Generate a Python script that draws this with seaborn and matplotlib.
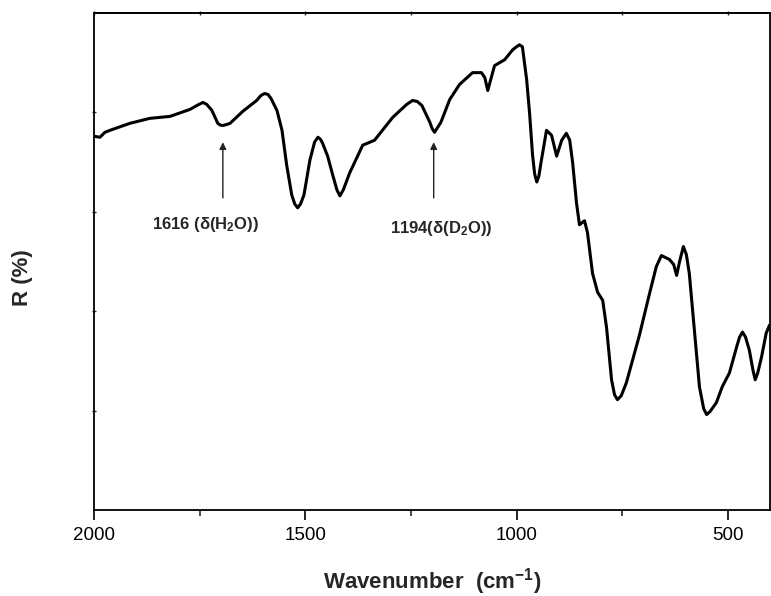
import matplotlib
matplotlib.use("Agg")
import matplotlib.pyplot as plt
import seaborn as sns
import pandas as pd

# ---- data ----
wavenumber = [2000, 1986, 1974, 1962, 1915, 1868, 1820, 1773, 1752, 1742, 1733, 1721, 1707,
              1700, 1693, 1685, 1678, 1648, 1615, 1605, 1596, 1588, 1581, 1567, 1555, 1544,
              1532, 1525, 1518, 1511, 1503, 1489, 1478, 1470, 1464, 1459, 1447, 1435, 1425,
              1418, 1410, 1395, 1364, 1336, 1293, 1260, 1246, 1235, 1224, 1205, 1200, 1194,
              1188, 1179, 1158, 1135, 1104, 1083, 1075, 1068, 1061, 1052, 1028, 1009, 1000,
              993, 986, 976, 969, 962, 957, 952, 947, 943, 929, 917, 905, 893, 882, 874, 867,
              858, 851, 839, 832, 820, 808, 796, 787, 775, 768, 761, 752, 740, 709, 685, 669,
              657, 638, 628, 621, 614, 605, 598, 591, 579, 567, 557, 550, 542, 527, 513, 496,
              479, 472, 465, 458, 449, 440, 435, 429, 420, 409, 401]
reflectance = [3.76, 3.75, 3.80, 3.82, 3.89, 3.94, 3.96, 4.03, 4.08, 4.10, 4.08, 4.02, 3.89,
               3.87, 3.87, 3.88, 3.89, 4.01, 4.12, 4.17, 4.19, 4.18, 4.14, 4.02, 3.82, 3.47,
               3.17, 3.08, 3.04, 3.08, 3.17, 3.52, 3.70, 3.75, 3.73, 3.69, 3.56, 3.37, 3.22,
               3.16, 3.22, 3.39, 3.67, 3.72, 3.95, 4.08, 4.12, 4.11, 4.07, 3.90, 3.84, 3.80,
               3.84, 3.90, 4.13, 4.28, 4.40, 4.40, 4.35, 4.22, 4.33, 4.47, 4.53, 4.63, 4.66,
               4.68, 4.66, 4.33, 3.99, 3.57, 3.38, 3.30, 3.36, 3.47, 3.82, 3.77, 3.56, 3.72,
               3.79, 3.72, 3.49, 3.09, 2.87, 2.91, 2.79, 2.38, 2.19, 2.11, 1.84, 1.31, 1.16,
               1.11, 1.15, 1.28, 1.76, 2.18, 2.45, 2.56, 2.52, 2.47, 2.36, 2.50, 2.65, 2.57,
               2.38, 1.81, 1.24, 1.02, 0.96, 0.99, 1.08, 1.24, 1.38, 1.64, 1.74, 1.79, 1.74,
               1.61, 1.40, 1.31, 1.38, 1.54, 1.78, 1.86]

x_ticks = [2000, 1500, 1000, 500]
x_minor = [1750, 1250, 750]
ann_labels = [r"1616 (δ(H$_\mathbf{2}$O))", r"1194(δ(D$_\mathbf{2}$O))"]
ann_arrow_x = [1695, 1196]

df = pd.DataFrame({"wavenumber": wavenumber, "R": reflectance})

sns.set_style("ticks")
plt.rcParams["font.family"] = ["Liberation Sans", "DejaVu Sans"]
plt.rcParams["mathtext.fontset"] = "custom"
plt.rcParams["mathtext.rm"] = "Liberation Sans"
plt.rcParams["mathtext.bf"] = "Liberation Sans:bold"
plt.rcParams["mathtext.it"] = "Liberation Sans:italic"

fig = plt.figure(figsize=(7.71, 5.96), dpi=100)
ax = fig.add_axes([94 / 771, 1 - 510 / 596, 676 / 771, 497 / 596])

sns.lineplot(data=df, x="wavenumber", y="R", ax=ax, color="black", linewidth=2.2,
             sort=False, estimator=None, legend=False)
for ln in ax.get_lines():
    ln.set_solid_joinstyle("round")
    ln.set_solid_capstyle("round")

ax.set_xlim(2000, 400)
ax.set_ylim(0, 5)
ax.set_xticks(x_ticks)
ax.set_xticks(x_minor, minor=True)
ax.set_xticklabels([str(t) for t in x_ticks], fontsize=13.5)
ax.set_yticks([1, 2, 3, 4])
ax.set_yticklabels([])

for s in ax.spines.values():
    s.set_linewidth(1.3)
    s.set_color("black")

ax.tick_params(axis="x", which="major", direction="out", length=7, width=1.2, pad=5,
               top=False, colors="black")
ax.tick_params(axis="x", which="minor", direction="out", length=4, width=1.2, top=False)
ax.tick_params(axis="y", which="major", direction="inout", length=2.5, width=1.0)

sec = ax.secondary_xaxis("top")
sec.set_xticks(x_ticks + x_minor)
sec.set_xticklabels([])
sec.tick_params(axis="x", direction="inout", length=3, width=1.0)
sec.spines["top"].set_linewidth(1.3)

ax.set_xlabel(r"Wavenumber  (cm$^{\mathbf{-1}}$)", fontsize=16, fontweight="bold")
ax.set_ylabel("R (%)", fontsize=16, fontweight="bold")
ax.xaxis.set_label_coords(0.5, -0.112)
ax.yaxis.set_label_coords(-0.09, 0.467)

text_y = [2.87, 2.83]
text_x = [1735, 1179]
for lab, ax_x, tx, ty in zip(ann_labels, ann_arrow_x, text_x, text_y):
    ax.annotate("", xy=(ax_x, 3.70), xytext=(ax_x, 3.14),
                arrowprops=dict(arrowstyle="-|>", color="#222222", lw=1.0,
                                mutation_scale=10, shrinkA=0, shrinkB=0))
    ax.text(tx, ty, lab, ha="center", va="center", fontsize=12, fontweight="bold")

fig.savefig("out.png", dpi=100)
